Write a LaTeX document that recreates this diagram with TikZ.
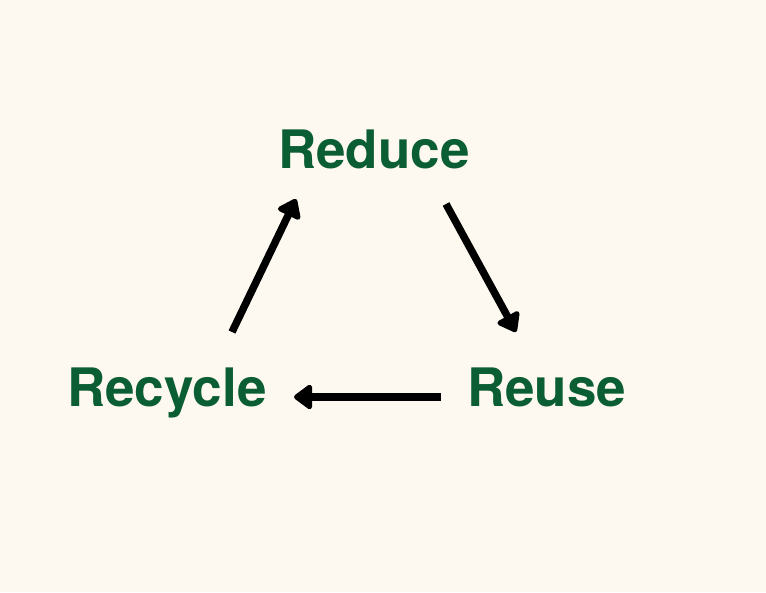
\documentclass[tikz,border=0pt]{standalone}
\usepackage{fontspec}
\setmainfont{TeX Gyre Heros}
\usetikzlibrary{arrows.meta}
\definecolor{bg}{HTML}{FEF9F0}
\definecolor{leaf}{HTML}{0B5E33}
\begin{document}
\begin{tikzpicture}[x=1pt,y=-1pt,
  word/.style={text=leaf,inner sep=0pt,anchor=base west,font=\fontsize{53}{60}\selectfont\bfseries},
  flow/.style={line width=7.5pt,draw=black,-{Triangle[length=20pt,width=28pt,round]}}]
\fill[bg] (0,0) rectangle (766,592);
\useasboundingbox (0,0) rectangle (766,592);
\node[word] (reduce) at (278,168) {Reduce};
\node[word] (recycle) at (67,406) {Recycle};
\node[word] (reuse) at (467,406) {Reuse};
\coordinate (a1s) at (232,332);
\coordinate (a1e) at (296,199);
\coordinate (a2s) at (446,204);
\coordinate (a2e) at (516,332);
\coordinate (a3s) at (441,397);
\coordinate (a3e) at (294,397);
\draw[flow] (a1s) -- (a1e);
\draw[flow] (a2s) -- (a2e);
\draw[flow] (a3s) -- (a3e);
\end{tikzpicture}
\end{document}
